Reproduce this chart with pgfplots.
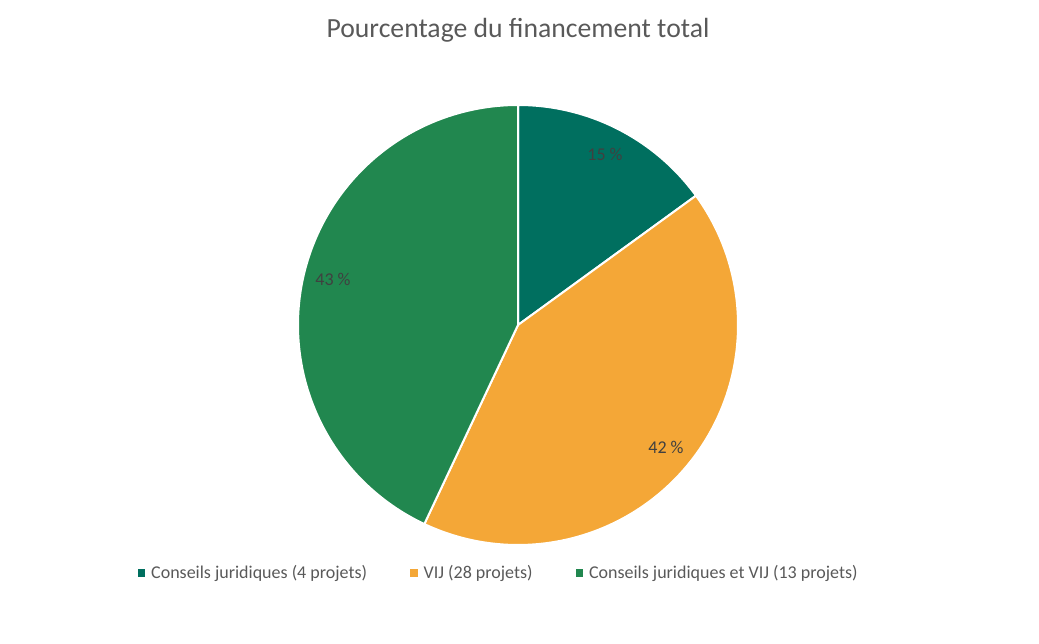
\documentclass[border=0pt]{standalone}
\usepackage{fontspec}
\setmainfont{Carlito}
\usepackage{pgfplots}
\pgfplotsset{compat=1.18}
\definecolor{cA}{HTML}{006F5F}
\definecolor{cB}{HTML}{F4A737}
\definecolor{cC}{HTML}{21874F}
\definecolor{txt}{HTML}{595959}
\definecolor{lbl}{HTML}{404040}
\begin{document}
\begin{tikzpicture}
\begin{axis}[
  x=1bp, y=1bp, xmin=0, xmax=1039, ymin=0, ymax=644,
  hide axis, clip=false, scale only axis,
  legend columns=3,
  legend style={draw=none, fill=none, at={(axis cs:134.5,71)}, anchor=west,
    font=\fontsize{18bp}{20bp}\selectfont, text=txt,
    /tikz/every even column/.append style={column sep=41.5bp},
    nodes={inner sep=1.5bp}},
]
\path (axis cs:0,0) rectangle (axis cs:1039,644);
% percentages: 15, 42, 43  -> angles clockwise from top (x3.6)
\addplot[fill=cA, draw=white, line width=2bp, domain=0:15*3.6, samples=80, variable=\t,
  legend image code/.code={\path[fill=cA, draw=none] (0bp,-3.75bp) rectangle (7.5bp,3.75bp); \path[draw=none, fill=none] (0bp,0bp) -- (12bp,0bp);}]
  ({518+220*sin(\t)}, {319+220*cos(\t)}) -- (axis cs:518,319) -- cycle;
\addlegendentry{Conseils juridiques (4 projets)}
\addplot[fill=cB, draw=white, line width=2bp, domain=15*3.6:57*3.6, samples=150, variable=\t,
  legend image code/.code={\path[fill=cB, draw=none] (0bp,-3.75bp) rectangle (7.5bp,3.75bp); \path[draw=none, fill=none] (0bp,0bp) -- (12bp,0bp);}]
  ({518+220*sin(\t)}, {319+220*cos(\t)}) -- (axis cs:518,319) -- cycle;
\addlegendentry{VIJ (28 projets)}
\addplot[fill=cC, draw=white, line width=2bp, domain=57*3.6:100*3.6, samples=150, variable=\t,
  legend image code/.code={\path[fill=cC, draw=none] (0bp,-3.75bp) rectangle (7.5bp,3.75bp); \path[draw=none, fill=none] (0bp,0bp) -- (12bp,0bp);}]
  ({518+220*sin(\t)}, {319+220*cos(\t)}) -- (axis cs:518,319) -- cycle;
\addlegendentry{Conseils juridiques et VIJ (13 projets)}
\node[text=lbl, font=\fontsize{18bp}{20bp}\selectfont] at (axis cs:605,490) {15 \%};
\node[text=lbl, font=\fontsize{18bp}{20bp}\selectfont] at (axis cs:666,197) {42 \%};
\node[text=lbl, font=\fontsize{18bp}{20bp}\selectfont] at (axis cs:333,365) {43 \%};
\node[text=txt, font=\fontsize{27.7bp}{30bp}\selectfont] at (axis cs:518,614) {Pourcentage du financement total};
\end{axis}
\end{tikzpicture}
\end{document}
